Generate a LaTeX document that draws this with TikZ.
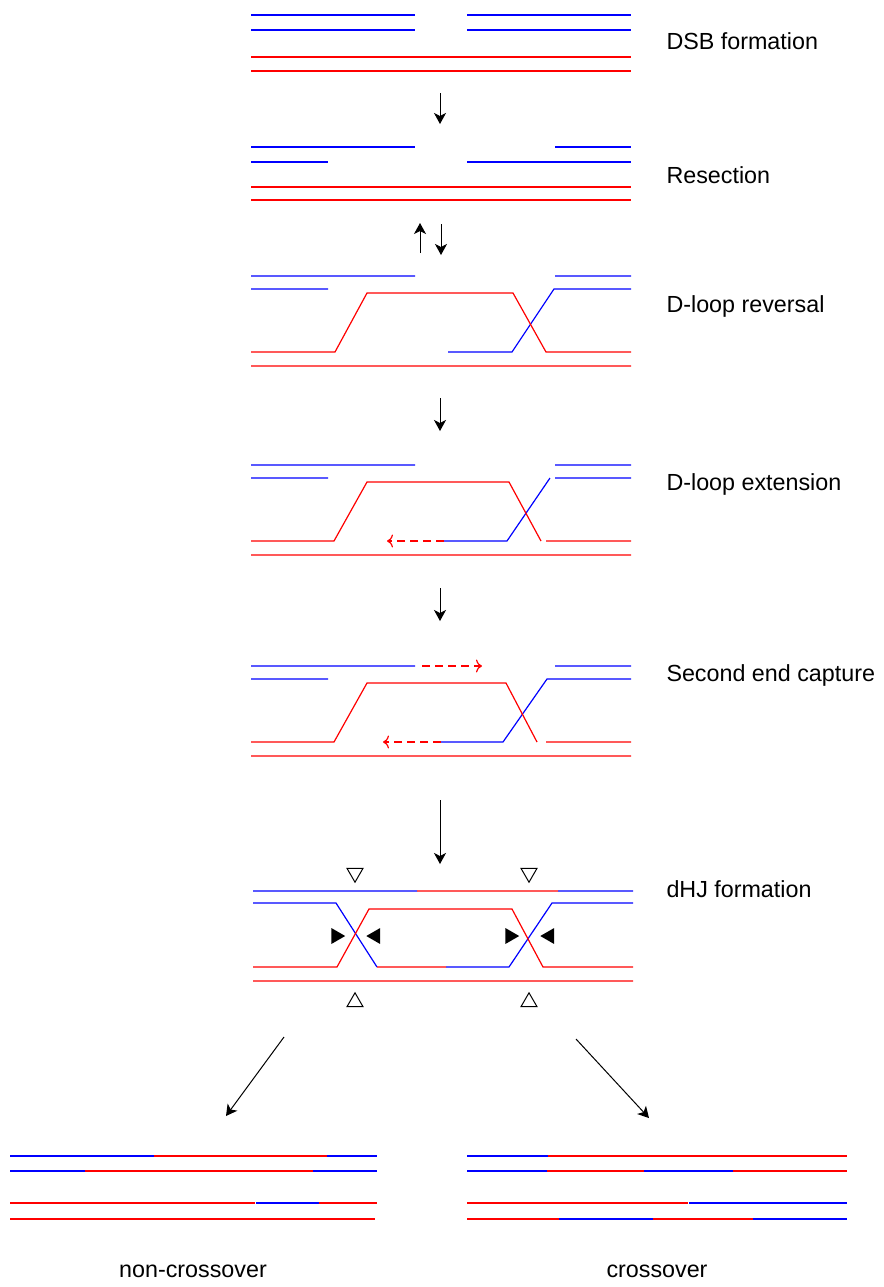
\documentclass[tikz,border=0pt]{standalone}
\usepackage{fontspec}
\setmainfont{Liberation Sans}
\usetikzlibrary{arrows.meta,shapes.geometric}
\tikzset{
  bs/.style={color=blue, line width=0.6pt},
  rs/.style={color=red, line width=0.6pt},
  ext/.style={color=red, line width=0.6pt, dash pattern=on 4pt off 2.5pt, -{To[length=3pt,width=6.5pt]}},
  lab/.style={anchor=base west, inner sep=0pt, font=\fontsize{11.65}{14}\selectfont},
  tri/.style={regular polygon, regular polygon sides=3, inner sep=0pt, minimum size=9.2pt},
}
\begin{document}
\begin{tikzpicture}[x=0.5pt,y=-0.5pt,>={Stealth[length=5.5pt,width=6pt,inset=1.5pt]},line width=0.5pt]
\useasboundingbox (0,0) rectangle (884,1287);

% DSB formation
\draw[bs](251,15)--(415,15) (467,15)--(631,15) (251,30)--(415,30) (467,30)--(631,30);
\draw[rs](251,57)--(631,57) (251,71)--(631,71);
\node(dsb)[lab] at (666,49){DSB formation};

% Resection
\draw[bs](251,147)--(415,147) (555,147)--(631,147) (251,162)--(328,162) (467,162)--(631,162);
\draw[rs](251,187)--(631,187) (251,200)--(631,200);
\node(res)[lab] at (666,183){Resection};

% D-loop reversal
\draw[bs](251,276)--(415,276) (555,276)--(631,276) (251,289)--(328,289)
  (448,352)--(512,352)--(554,289)--(631,289);
\draw[rs](251,352)--(335,352)--(367,293)--(513,293)--(546,352)--(631,352) (251,366)--(631,366);
\node(rev)[lab] at (666,312){D-loop reversal};

% D-loop extension
\draw[bs](251,465)--(415,465) (555,465)--(631,465) (251,478)--(328,478) (555,478)--(631,478)
  (444,541)--(507,541)--(550,478);
\draw[rs](251,541)--(334,541)--(367,482)--(509,482)--(541,541) (546,541)--(631,541) (251,555)--(631,555);
\coordinate(x1) at (444,541); \coordinate(y1) at (387,541);
\draw[ext](x1)--(y1);
\node(ext)[lab] at (666,490){D-loop extension};

% Second end capture
\draw[bs](251,666)--(415,666) (555,666)--(631,666) (251,679)--(328,679)
  (441,742)--(503,742)--(547,679)--(631,679);
\draw[rs](251,742)--(334,742)--(367,683)--(506,683)--(537,742) (546,742)--(631,742) (251,756)--(631,756);
\coordinate(x2) at (422,666); \coordinate(y2) at (482,666);
\coordinate(x3) at (441,742); \coordinate(y3) at (383,742);
\draw[ext](x2)--(y2);
\draw[ext](x3)--(y3);
\node(sec)[lab] at (666,681){Second end capture};

% dHJ formation
\draw[bs](253,891)--(417,891) (558,891)--(633,891) (253,903)--(336,903)--(377,967)
  (446,967)--(509,967)--(552,903)--(633,903);
\draw[rs](417,891)--(558,891) (377,967)--(446,967)
  (253,967)--(337,967)--(369,909)--(512,909)--(543,967)--(633,967) (253,981)--(633,981);
\node(dhj)[lab] at (666,897){dHJ formation};
\foreach \x[count=\i] in {355,529}
{\node(t\i)[tri,draw,rotate=180] at (\x,873){};
\node(u\i)[tri,draw] at (\x,1002){};}
\foreach \x[count=\i] in {336,510}
{\node(p\i)[tri,fill,rotate=-90] at (\x,936){};
\node(q\i)[tri,fill,rotate=90] at (\x+39.5,936){};}

% steps
\foreach \x/\ys/\ye[count=\i] in {440/93/124,420/253/223,441/224/255,440/398/431,440/588/621,440/800/864,284/1037/226,576/1039/649}
{\ifnum\i<7
\coordinate(s\i) at (\x,\ys); \coordinate(e\i) at (\x,\ye);
\else
\coordinate(s\i) at (\x,\ys); \coordinate(e\i) at (\ye,{\ys+79});
\fi
\draw[->](s\i)--(e\i);}

% non-crossover
\draw[bs](10,1156)--(154,1156) (327,1156)--(377,1156) (10,1171)--(85,1171) (313,1171)--(377,1171) (256,1203)--(319,1203);
\draw[rs](154,1156)--(327,1156) (85,1171)--(313,1171) (10,1203)--(255,1203) (319,1203)--(377,1203) (10,1219)--(375,1219);
\node(nco)[anchor=base, inner sep=0pt, font=\fontsize{11.65}{14}\selectfont] at (193,1277){non-crossover};

% crossover
\draw[bs](467,1156)--(548,1156) (467,1171)--(547,1171) (644,1171)--(733,1171) (689,1203)--(847,1203) (559,1219)--(653,1219) (753,1219)--(847,1219);
\draw[rs](548,1156)--(847,1156) (547,1171)--(644,1171) (733,1171)--(847,1171) (467,1203)--(688,1203) (467,1219)--(559,1219) (653,1219)--(753,1219);
\node(co)[anchor=base, inner sep=0pt, font=\fontsize{11.65}{14}\selectfont] at (657,1277){crossover};

\end{tikzpicture}
\end{document}
